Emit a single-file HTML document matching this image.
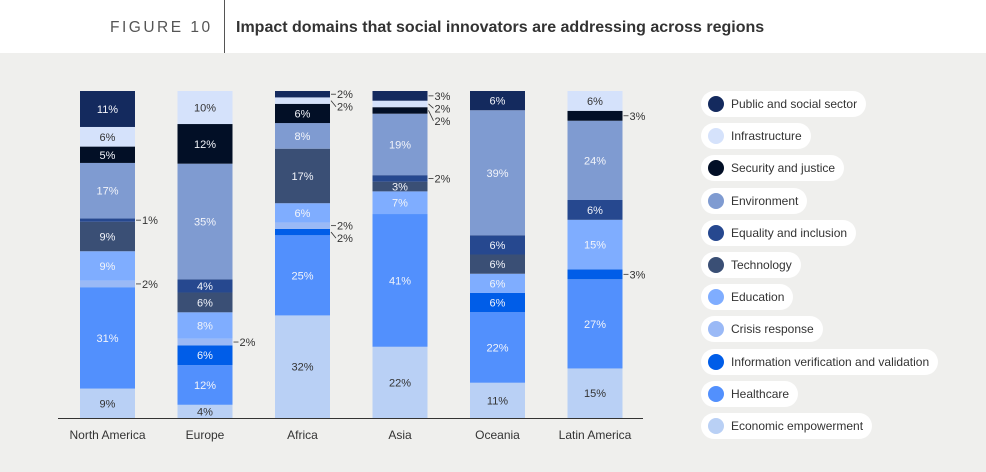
<!DOCTYPE html>
<html><head><meta charset="utf-8">
<style>
html,body{margin:0;padding:0;}
body{width:986px;height:472px;background:#efefed;font-family:"Liberation Sans",Arial,sans-serif;position:relative;overflow:hidden;}
#hdr{position:absolute;left:0;top:0;width:986px;height:53px;background:#fff;}
#fig{position:absolute;left:110px;top:19px;font-size:15.5px;letter-spacing:2.5px;color:#555;}
#sep{position:absolute;left:224px;top:0;width:1px;height:53px;background:#555;}
#title{position:absolute;left:236px;top:19px;font-size:16px;font-weight:bold;color:#333;}
#legend{position:absolute;left:701px;top:0;}
.pill{position:absolute;left:0;height:26px;background:#fff;border-radius:13px;display:flex;align-items:center;padding:0 9px 0 7px;white-space:nowrap;font-size:12px;color:#333;}
.dot{width:16px;height:16px;border-radius:50%;margin-right:7px;}
</style></head>
<body>
<div id="hdr"></div>
<div id="fig">FIGURE 10</div>
<div id="sep"></div>
<div id="title">Impact domains that social innovators are addressing across regions</div>
<svg id="chart" width="986" height="472" style="position:absolute;left:0;top:0"></svg>
<div id="legend"></div>
<script>
const regions = ["North America","Europe","Africa","Asia","Oceania","Latin America"];
// bottom to top
const categories = ["Economic empowerment","Healthcare","Information verification and validation","Crisis response","Education","Technology","Equality and inclusion","Environment","Security and justice","Infrastructure","Public and social sector"];
const economic   = [9,4,32,22,11,15];
const healthcare = [31,12,25,41,22,27];
const infoVerif  = [0,6,2,0,6,3];
const crisis     = [2,2,2,0,0,0];
const education  = [9,8,6,7,6,15];
const technology = [9,6,17,3,6,0];
const equality   = [1,4,0,2,6,6];
const environment= [17,35,8,19,39,24];
const security   = [5,12,6,2,0,3];
const infrastructure = [6,10,2,2,0,6];
const publicSector   = [11,0,2,3,6,0];
const series = [economic,healthcare,infoVerif,crisis,education,technology,equality,environment,security,infrastructure,publicSector];
const colors = ["#b9d0f5","#5290fd","#005de8","#9ab9f6","#7fadff","#3a4f75","#26488f","#7f9bd1","#020f26","#d5e2fb","#142a5e"];
const darkText = [true,false,false,false,false,false,false,false,false,true,false];

const NS="http://www.w3.org/2000/svg";
const svg=document.getElementById('chart');
const barTop=91, barBottom=418, barW=55, x0=80, step=97.5;
const xPos=i=>x0+i*step;
function mk(tag,attrs){const e=document.createElementNS(NS,tag);for(const k in attrs)e.setAttribute(k,attrs[k]);svg.appendChild(e);return e;}

const axis=mk('line',{x1:58,x2:643,y1:418.5,y2:418.5,stroke:'#333','stroke-width':1});



regions.forEach((r,i)=>{
  let total=0; series.forEach(s=>total+=s[i]);
  const scale=(barBottom-barTop)/total;
  let y=barBottom;
  const ext=[];
  series.forEach((s,c)=>{
    const v=s[i]; if(!v) return;
    const h=v*scale; y-=h;
    const rect=mk('rect',{x:xPos(i),y:y,width:barW,height:h,fill:colors[c]});
    
    
    const cy=y+h/2;
    const external = v<3 || (v===3 && c!==5);
    if(!external){
      const t=mk('text',{x:xPos(i)+barW/2,y:cy+4,'text-anchor':'middle','font-size':11,fill:darkText[c]?'#333':'#f2f4fa'});
      t.textContent=v+'%';
      
      
    } else ext.push({v,cy});
  });
  ext.sort((a,b)=>a.cy-b.cy);
  let last=-1e9;
  ext.forEach(e=>{
    let ly=Math.max(e.cy,last+12.5); last=ly;
    const xb=xPos(i)+barW;
    const ln=mk('line',{x1:xb+1,y1:e.cy,x2:xb+6,y2:ly,stroke:'#333','stroke-width':0.8});
    
    
    const t=mk('text',{x:xb+7,y:ly+4,'font-size':11,fill:'#333'});
    t.textContent=e.v+'%';
    
    
  });
  const lab=mk('text',{x:xPos(i)+barW/2,y:439,'text-anchor':'middle','font-size':12,fill:'#333'});
  lab.textContent=r;
  
  
});

const legend=document.getElementById('legend');
const legendOrder=[10,9,8,7,6,5,4,3,2,1,0];
legendOrder.forEach((c,k)=>{
  const p=document.createElement('div');
  p.className='pill';
  p.style.top=(91+k*32.2)+'px';
  
  
  const d=document.createElement('div');
  d.className='dot';d.style.background=colors[c];
  
  
  const s=document.createElement('span');
  s.textContent=categories[c];
  
  
  p.appendChild(d);p.appendChild(s);legend.appendChild(p);
});
</script>
</body></html>
